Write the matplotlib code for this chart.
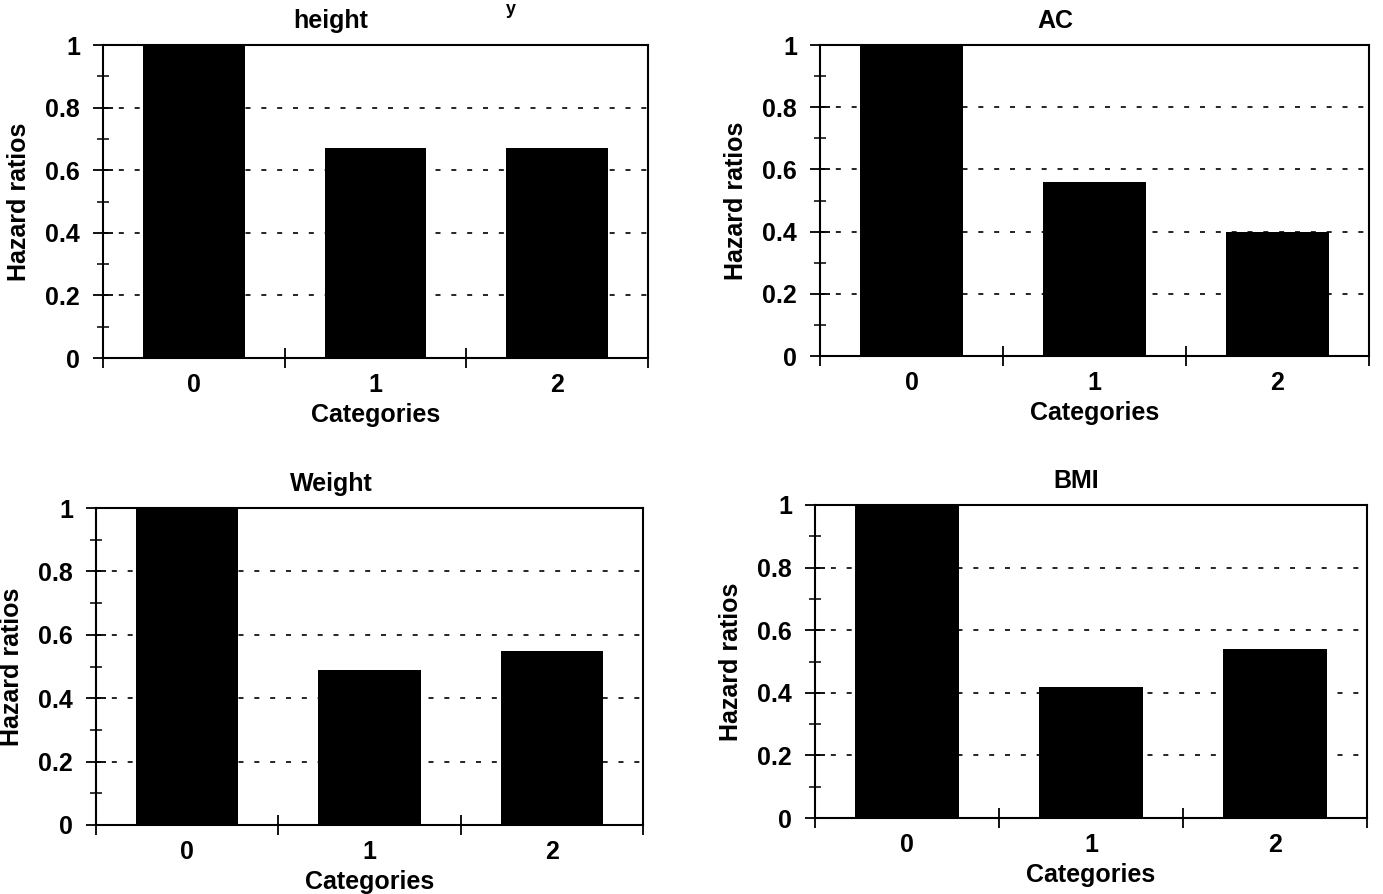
import matplotlib
matplotlib.use("Agg")
import matplotlib.pyplot as plt
from matplotlib.ticker import MultipleLocator, FixedLocator, NullFormatter

plt.rcParams['font.family'] = ['Liberation Sans', 'DejaVu Sans']

categories = ["0", "1", "2"]
titles = ["height", "AC", "Weight", "BMI"]
height_hr = [1.0, 0.67, 0.67]
ac_hr = [1.0, 0.56, 0.40]
weight_hr = [1.0, 0.49, 0.55]
bmi_hr = [1.0, 0.42, 0.54]
series = [height_hr, ac_hr, weight_hr, bmi_hr]
yticks = [0, 0.2, 0.4, 0.6, 0.8, 1]
ytick_labels = ["0", "0.2", "0.4", "0.6", "0.8", "1"]

W, H = 1383, 894
fig = plt.figure(figsize=(W / 100, H / 100), dpi=100)

def px_box(left, right, top, bottom):
    return [left / W, 1 - bottom / H, (right - left) / W, (bottom - top) / H]

# axes boxes in pixels (left, right, top, bottom)
positions = [
    px_box(103, 648, 45, 358),
    px_box(820, 1369, 45, 356),
    px_box(96, 643, 508, 825),
    px_box(815, 1367, 505, 818),
]
title_x = [0.418, 0.428, 0.43, 0.473]

fs = 18
for pos, title, vals, tx in zip(positions, titles, series, title_x):
    ax = fig.add_axes(pos)
    x = list(range(len(categories)))
    ax.bar(x, vals, width=0.56, color='black', zorder=3)
    ax.set_xlim(-0.5, len(categories) - 0.5)
    ax.set_ylim(0, 1)
    # dashed gridlines
    for g in yticks[1:-1]:
        ax.axhline(g, color='black', lw=1.2, linestyle=(0, (3, 6.5)), zorder=1)
    # y ticks
    ax.yaxis.set_major_locator(FixedLocator(yticks))
    ax.set_yticklabels(ytick_labels, fontsize=fs, fontweight='bold')
    ax.yaxis.set_minor_locator(MultipleLocator(0.1))
    ax.tick_params(axis='y', which='major', direction='inout', length=15, width=1.3, pad=9)
    ax.tick_params(axis='y', which='minor', direction='inout', length=8, width=1.1)
    # x: labels at category centres, tick marks at category boundaries
    ax.set_xticks(x)
    ax.set_xticklabels(categories, fontsize=fs, fontweight='bold')
    ax.tick_params(axis='x', which='major', length=0, pad=11)
    ax.xaxis.set_minor_locator(FixedLocator([-0.5, 0.5, 1.5, 2.5]))
    ax.xaxis.set_minor_formatter(NullFormatter())
    ax.tick_params(axis='x', which='minor', direction='inout', length=15, width=1.3)
    for s in ax.spines.values():
        s.set_linewidth(1.5)
        s.set_color('black')
    ax.set_title(title, fontsize=fs, fontweight='bold', x=tx, pad=12)
    ax.set_xlabel("Categories", fontsize=fs, fontweight='bold', labelpad=4)
    ax.set_ylabel("Hazard ratios", fontsize=fs, fontweight='bold', labelpad=10)

# fragment of the figure heading visible at the very top
fig.text(506 / W, 1 - 1 / H, "y", fontsize=13, fontweight='bold', ha='left', va='top')

fig.savefig("out.png", dpi=100, facecolor='white')
